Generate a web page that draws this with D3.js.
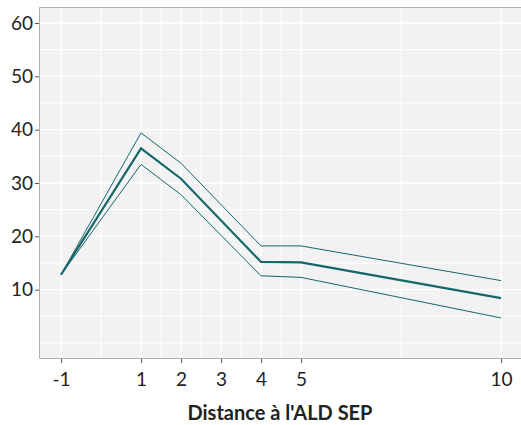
<!DOCTYPE html>
<html>
<head>
<meta charset="utf-8">
<script src="https://cdn.jsdelivr.net/npm/d3@7"></script>
<style>
  body { margin: 0; background: #fff; }
  text { font-family: Lato, "Open Sans", sans-serif; fill: #222; }
</style>
</head>
<body>
<div id="chart"></div>
<script>
var distances = [-1, 1, 2, 4, 5, 10];
var estimate = [12.8, 36.5, 30.8, 15.2, 15.1, 8.4];
var upper = [12.8, 39.4, 33.7, 18.2, 18.2, 11.7];
var lower = [12.8, 33.5, 27.8, 12.6, 12.3, 4.7];
var xTicks = [-1, 1, 2, 3, 4, 5, 10];
var xMinor = [0, 1.5, 2.5, 3.5, 4.5, 7.5];
var yTicks = [10, 20, 30, 40, 50, 60];
var yMinor = [0, 5, 15, 25, 35, 45, 55];

var width = 521, height = 425;
var pLeft = 39, pTop = 7, pRight = 523, pBottom = 359;

var svg = d3.select("#chart").append("svg")
  .attr("width", width)
  .attr("height", height);

// echelles avec expansion 5% facon ggplot
var x = d3.scaleLinear().domain([-1.55, 10.55]).range([pLeft, pRight]);
var y = d3.scaleLinear().domain([-3, 63]).range([pBottom, pTop]);

svg.append("rect")
  .attr("x", pLeft).attr("y", pTop)
  .attr("width", pRight - pLeft).attr("height", pBottom - pTop)
  .attr("fill", "#f2f2f2");

var grid = svg.append("g").attr("stroke", "#fff");
grid.selectAll("line.ym")
  .data(yMinor.concat(yTicks))
  .enter().append("line")
  .attr("x1", pLeft).attr("x2", pRight)
  .attr("y1", function(d) { return y(d); })
  .attr("y2", function(d) { return y(d); })
  .attr("stroke-width", function(d) { return yTicks.indexOf(d) >= 0 ? 1.3 : 1; });
grid.selectAll("line.xm")
  .data(xMinor.concat(xTicks))
  .enter().append("line")
  .attr("y1", pTop).attr("y2", pBottom)
  .attr("x1", function(d) { return x(d); })
  .attr("x2", function(d) { return x(d); })
  .attr("stroke-width", function(d) { return xTicks.indexOf(d) >= 0 ? 1.3 : 1; });

// bordure du panneau
svg.append("path")
  .attr("d", "M" + pRight + "," + (pTop + 0.5) + "H" + (pLeft + 0.5) + "V" + (pBottom - 0.5) + "H" + pRight)
  .attr("fill", "none")
  .attr("stroke", "#b0b0b0")
  .attr("stroke-width", 1);

var xAxis = d3.axisBottom(x).tickValues(xTicks).tickSize(4).tickPadding(10)
  .tickFormat(function(d) { return String(d); });
var gx = svg.append("g")
  .attr("transform", "translate(0," + pBottom + ")")
  .call(xAxis);
gx.select(".domain").remove();
gx.selectAll("line").attr("stroke", "#555");
gx.selectAll("text").style("font-size", "19px").attr("fill", "#222");

var yAxis = d3.axisLeft(y).tickValues(yTicks).tickSize(4).tickPadding(2);
var gy = svg.append("g")
  .attr("transform", "translate(" + pLeft + ",0)")
  .call(yAxis);
gy.select(".domain").remove();
gy.selectAll("line").attr("stroke", "#555");
gy.selectAll("text").style("font-size", "19px").attr("fill", "#222");

svg.append("text")
  .attr("x", 280)
  .attr("y", 420)
  .attr("text-anchor", "middle")
  .style("font-size", "20px")
  .style("font-weight", "bold")
  .text("Distance à l'ALD SEP");

var line = d3.line()
  .x(function(d) { return x(d[0]); })
  .y(function(d) { return y(d[1]); });

function pts(vals) {
  return distances.map(function(d, i) { return [d, vals[i]]; });
}

var series = [
  { vals: upper, w: 1 },
  { vals: lower, w: 1 },
  { vals: estimate, w: 2.2 }
];
svg.selectAll("path.serie")
  .data(series)
  .enter().append("path")
  .attr("class", "serie")
  .attr("d", function(d) { return line(pts(d.vals)); })
  .attr("fill", "none")
  .attr("stroke", "#16676a")
  .attr("stroke-width", function(d) { return d.w; })
  .attr("stroke-linejoin", "miter");
</script>
</body>
</html>
